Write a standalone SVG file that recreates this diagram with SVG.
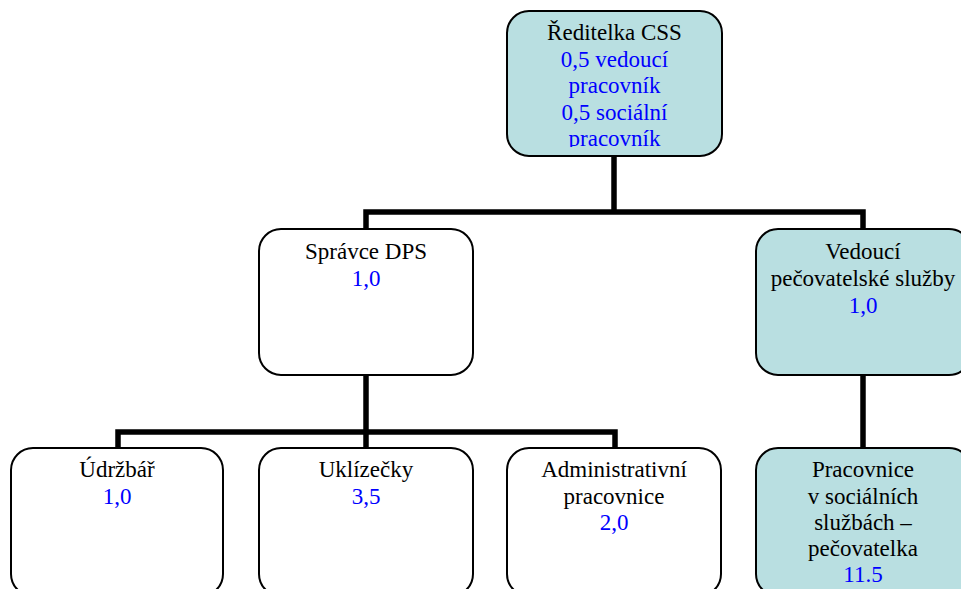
<svg xmlns="http://www.w3.org/2000/svg" width="961" height="589" viewBox="0 0 961 589" font-family="'Liberation Serif', 'DejaVu Serif', serif">
  <defs>
    <style>
      .box { stroke: #000; stroke-width: 2; }
      .teal { fill: #b9dfe1; }
      .white { fill: #ffffff; }
      .conn { fill: none; stroke: #000; stroke-width: 5.5; stroke-linejoin: miter; stroke-linecap: butt; }
      .t { font-family: 'Liberation Serif', 'DejaVu Serif', serif; font-size: 23px; text-anchor: middle; fill: #000; }
      .num { fill: #0000ff; }
    </style>
    <clipPath id="clipTop">
      <rect x="507" y="11" width="215" height="136"/>
    </clipPath>
  </defs>
  <rect width="961" height="589" fill="#ffffff"/>
  <g id="connectors">
    <path class="conn" d="M614,156 V212"/>
    <path class="conn" d="M366,229 V212 H863 V229"/>
    <path class="conn" d="M366,375 V432"/>
    <path class="conn" d="M118,448 V432 H615 V448"/>
    <path class="conn" d="M366,432 V448"/>
    <path class="conn" d="M863,375 V448"/>
  </g>
  <g id="reditelka">
    <rect class="box teal" x="507" y="11" width="215" height="145" rx="22" ry="22"/>
    <g clip-path="url(#clipTop)">
      <text class="t" x="614.5" y="40">Ředitelka CSS</text>
      <text class="t num" x="614.5" y="66.5">0,5 vedoucí</text>
      <text class="t num" x="614.5" y="93">pracovník</text>
      <text class="t num" x="614.5" y="119.5">0,5 sociální</text>
      <text class="t num" x="614.5" y="146">pracovník</text>
    </g>
  </g>
  <g id="spravce">
    <rect class="box white" x="259" y="229" width="214" height="146" rx="22" ry="22"/>
    <text class="t" x="366" y="259">Správce DPS</text>
    <text class="t num" x="366" y="285.5">1,0</text>
  </g>
  <g id="vedouci">
    <rect class="box teal" x="756" y="229" width="215" height="146" rx="22" ry="22"/>
    <text class="t" x="863" y="259">Vedoucí</text>
    <text class="t" x="863" y="286">pečovatelské služby</text>
    <text class="t num" x="863" y="313">1,0</text>
  </g>
  <g id="udrzbar">
    <rect class="box white" x="11" y="448" width="212" height="148" rx="22" ry="22"/>
    <text class="t" x="117" y="477">Údržbář</text>
    <text class="t num" x="117" y="503.5">1,0</text>
  </g>
  <g id="uklizecky">
    <rect class="box white" x="259" y="448" width="214" height="148" rx="22" ry="22"/>
    <text class="t" x="366" y="477">Uklízečky</text>
    <text class="t num" x="366" y="503.5">3,5</text>
  </g>
  <g id="administrativni">
    <rect class="box white" x="507" y="448" width="214" height="148" rx="22" ry="22"/>
    <text class="t" x="614" y="477">Administrativní</text>
    <text class="t" x="614" y="503.5">pracovnice</text>
    <text class="t num" x="614" y="530">2,0</text>
  </g>
  <g id="pracovnice">
    <rect class="box teal" x="756" y="448" width="215" height="148" rx="22" ry="22"/>
    <text class="t" x="863" y="477">Pracovnice</text>
    <text class="t" x="863" y="503.5">v sociálních</text>
    <text class="t" x="863" y="530">službách –</text>
    <text class="t" x="863" y="556">pečovatelka</text>
    <text class="t num" x="863" y="582">11.5</text>
  </g>
</svg>
